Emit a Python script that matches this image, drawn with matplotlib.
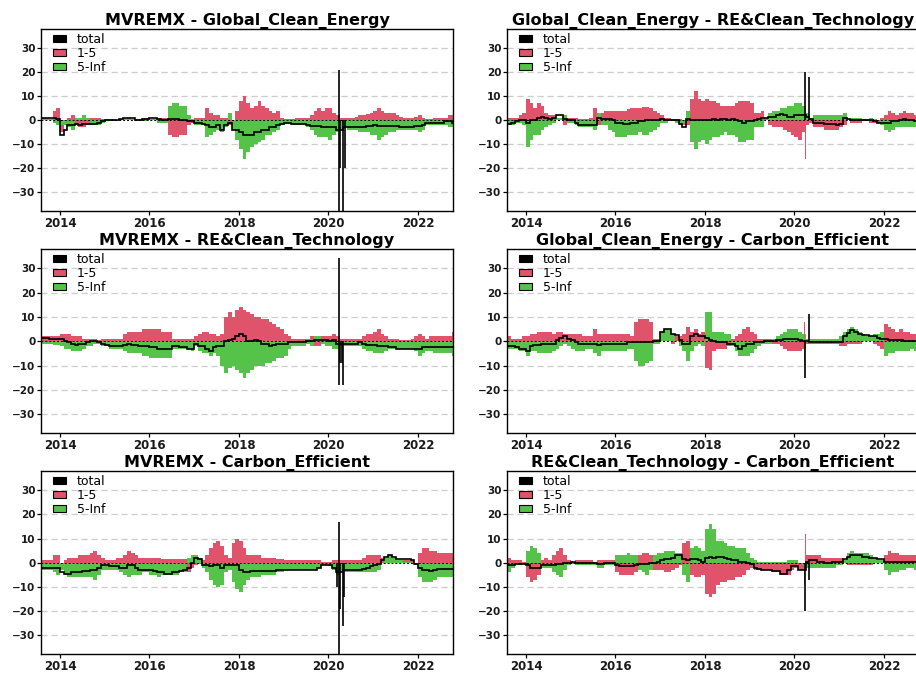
import numpy as np
import pandas as pd
import matplotlib
matplotlib.use("Agg")
import matplotlib.pyplot as plt
import matplotlib.dates as mdates
from matplotlib.patches import Patch

RED = "#DF536B"
GREEN = "#55C24A"

# monthly values, Aug 2013 .. Oct 2022 (111 months)
months = pd.date_range("2013-08-01", "2022-10-01", freq="MS")

titles = [
    "MVREMX - Global_Clean_Energy",
    "Global_Clean_Energy - RE&Clean_Technology",
    "MVREMX - RE&Clean_Technology",
    "Global_Clean_Energy - Carbon_Efficient",
    "MVREMX - Carbon_Efficient",
    "RE&Clean_Technology - Carbon_Efficient",
]

# ---- panel A: MVREMX - Global_Clean_Energy
a_red = [1, 1, 0.5, 4, 5,
         -5, -2, 1, 2, -2, -3, -3, -2, 1, 1, 1, 0.5,
         0.5, 0.5, 0.5, 0.3, 0.5, 0.5, 1, 0.5, 0.5, 0.5, 1, 1,
         0.5, 0.5, 1, 1, 1, -6, -7, -7, -6, -6, -2, -1,
         1, 1, 1, 5, 3, 2, 2, 1, 1, -2, -1, 4,
         8, 10, 7, 5, 6, 8, 6, 5, 4, 3, 4, 1,
         0.5, 0.5, 0.5, 1, 1, 1, 1, 2, 4, 5, 4, 5,
         5, 3, 2, 1, 1, 1, 1, 1.5, 2, 2, 2.5, 3,
         4, 5, 4, 3, 3, 3, 2, 1.5, 1, 1, 1, 1.5,
         2, 1, 0.5, 0.5, 1, 1, 1, 1, 2, 2]
a_green = [0.5, 0.5, 0.5, -1, -2,
           -2, -2, -3, -4, 1, 1, 2, 1, -2, -2, -2, -1,
           -0.5, -0.5, -0.3, 0.3, 0.3, 0.5, 0.5, 0.5, -0.5, -0.5, -0.5, -0.5,
           0.5, 0.5, -1, -1, -1, 6, 7, 7, 6, 6, 2, 0.5,
           -2, -2, -2, -7, -6, -5, -4, -5, -3, 3, -4, -8,
           -12, -16, -13, -11, -10, -9, -8, -6, -6, -5, -4, -2,
           -1.5, -1.5, -2, -2, -2, -2, -3, -4, -6, -7, -7, -7,
           -8, -6, -5, -4, -3, -4, -4, -4, -5, -5, -5, -6,
           -6, -8, -7, -6, -5, -5, -4, -4, -4, -4, -4, -4,
           -5, -4, -2, -2, -2, -2, -2, -2, -3, -3]
a_total = [1, 1, 1, 1, 0.5,
           -6, -4, -2, -2, -1.5, -2, -1.5, -1.5, -1.5, -1.5, -1, -0.5,
           0, 0, 0, 0.3, 0.5, 0.8, 1, 0.8, 0.3, 0.3, 0.5, 0.5,
           1, 1, 0.5, 0, 0, 0.5, 0.5, 0.5, 0.3, 0.3, -0.5, -0.5,
           -1, -1, -1.5, -2, -3, -3, -2, -4, -2, -1, -4, -4,
           -5, -6, -6, -6, -5, -5, -4, -4, -3, -3, -2, -1.5,
           -1, -1, -1.5, -1.5, -1.5, -1.5, -2, -2.5, -2.5, -2.5, -3, -3,
           -3, -3, -4, -4, -3, -3, -3, -3, -3, -3, -2.5, -2.5,
           -2, -2.5, -2.5, -2.5, -2.5, -2.5, -2.5, -3, -3, -3, -3, -2.5,
           -2.5, -2, -1, -1, -1, -1, -1, -0.5, -0.5, -1]
a_spike_days = ["2020-03-25", "2020-03-25", "2020-04-06", "2020-04-28", "2020-05-12"]
a_spike_total = [21, -39, -20, -39, -20]
a_spike_red = [23, 0, 0, 0, 0]
a_spike_green = [0, 0, 0, 0, 0]

# ---- panel B: Global_Clean_Energy - RE&Clean_Technology
b_red = [1, 1, 1, 2, 3,
         9, 7, 5, 7, 6, 3, 2, 2, 1, 1, -2, 1,
         1, 1, 0.5, 0.5, 0.5, 1, 5, -2, 3, 4, 4, 4,
         4, 4, 4, 4.5, 5, 5, 5, 5.5, 5.5, 5, 4, 3,
         2, 1, 1, 0.5, 0.5, 0.5, -2, -2, 9, 12, 9, 8,
         9, 8, 8, 7, 6, 6, 6, 6, 7, 8, 8, 8,
         7, 3, 3, 4, 1, -2, -3, -3, -3, -4, -5, -6,
         -7, -8, -5, -2, -1, -3, -3, -3, -4, -4, -4, -4,
         -3, -2, 0.5, -1, -1, -1, -0.5, -0.5, -1, -1, -1, 1,
         2, 4, 3, 2, 3, 4, 3, 3, 2, 2]
b_green = [-2, -2, -1, -1, -2,
           -11, -8, -6, -6, -4, -3, -2, -1, 1, 1, 2, -1,
           -1, -2, -3, -3, -3, -3, -4, 3, -2, -2, -4, -5,
           -7, -7, -7, -6, -6, -6, -5, -6, -6, -5, -4, -3,
           -1, -1, -0.5, -0.5, -1, -2, -1, 4, -9, -12, -9, -8,
           -10, -8, -7, -7, -6, -5, -6, -6, -7, -9, -9, -8,
           -8, -3, -3, -3, 0, 3, 4, 4, 5, 5, 6, 6,
           7, 7, 6, 3, 1, 2, 2, 2, 2, 2, 2, 2,
           2, 3, 0.5, 1, 1, 1, 0.5, 0.5, 1, 0.5, 0, -2,
           -4, -5, -4, -3, -3, -3, -3, -3, -3, -3]
b_total = [-1.5, -1, -0.5, 0, 0,
           -1, 0, 0, 1, 1.5, 1, 0.5, 1, 2, 2, 0.5, 0,
           0, -1, -2, -2, -2, -2, -2, 1, 0.5, 0.5, 0.5, 0,
           -1, -1, -1.5, -1.5, -1, -1, -0.5, -0.5, 0, 0, 0, 0,
           0.5, 0.3, 0.3, 0.2, 0, -1.5, -3, 0.5, 0, 0, 0, 0,
           0, 0.3, 0.5, 0.3, 0.5, 0.5, 0.3, 0.5, 0.3, -0.5, -1, -0.5,
           -0.5, 0.3, 0.5, 1, 1, 1.5, 1.5, 2, 2.5, 2, 1.5, 1.5,
           2, 2, 2, 1.5, 0.5, -1, -1, -1, -1.5, -1.5, -1.5, -2,
           -1.5, 1, 0.5, 0, 0, 0, 0, 0, 0, -0.5, -1, -1,
           -1, -1, -0.5, -0.5, 0, 0.5, 0, 0, -0.5, -0.5]
b_spike_days = ["2020-03-30", "2020-05-02"]
b_spike_total = [20, 18]
b_spike_red = [-16, 0]
b_spike_green = [0, 0]

# ---- panel C: MVREMX - RE&Clean_Technology
c_red = [2, 2, 2, 2, 2,
         3, 3, 3, 2, 2, 2, 1, 1, 1, 1, 0.5, 1,
         1, 1, 1, 1, 1, 3, 4, 4, 4, 4, 5, 5,
         5, 5, 5, 4, 4, 4, 1, 1, 1, 1, 1, 1,
         2, 3, 4, 4, 3, 3, 2, 3, 10, 12, 10, 13,
         14, 13, 12, 11, 10, 10, 9, 9, 8, 7, 6, 5,
         3, 2, 1, 1, 1, 1, 1, 2, -2, -2, 2, 2,
         2, 3, 2, 1, 1, 1, 1, 1, 1, 2, 3, 3,
         4, 5, 3, 2, 1, 1, 1, 0.5, 0.5, 0.5, 1, 2,
         3, 2, 1, 2, 2, 2, 2, 2, 2, 4]
c_green = [-1, -1, -1, -1.5, -1.5,
           -2, -3, -3, -4, -4, -4, -3, -2, -2, -1, -1, -2,
           -2, -3, -3, -3, -3, -4, -5, -5, -5, -5, -6, -6,
           -7, -7, -7, -7, -7, -7, -3, -3, -3, -3, -3, -4,
           -2, -4, -5, -5, -6, -5, -6, -10, -13, -11, -10, -12,
           -13, -15, -13, -12, -10, -10, -10, -9, -9, -8, -7, -7,
           -6, -3, -2, -2, -2, -2, -1, -2, 2, 2, -1, -2,
           -2, -3, -3, -2, -2, -2, -2, -2, -2, -3, -4, -4,
           -5, -5, -5, -4, -3, -3, -3, -3, -3, -3, -3, -4,
           -6, -5, -4, -4, -5, -5, -5, -5, -5, -6]
c_total = [1.5, 1.5, 1, 1, 1,
           1, 0, -0.5, -1, -1.5, -1, -1, -0.5, 0, 0, -0.5, -1,
           -1.5, -2, -2, -2, -2, -1.5, -1, -1.5, -1.5, -2, -2, -2,
           -2.5, -2.5, -3, -3, -3, -3, -2, -2, -2.5, -2.5, -3, -3,
           -1, -2, -2, -3, -4, -2.5, -2, -2, 0, 0.5, 1, 2,
           3, 2, 0, 0, 0.5, 0, -1, -1, -2, -1.5, -1, -1,
           -1, -0.5, -0.5, -0.5, -0.5, -0.3, 0, 0, 0.5, 0.5, 0.5, 0.5,
           0, 0.5, -1, -1, -1, -1, -1, -1, -0.5, -1, -1.5, -1.5,
           -1.5, -2, -2, -2, -2.5, -2.5, -3, -3, -3, -3, -3, -3,
           -3, -2.5, -2.5, -2.5, -2.5, -2.5, -2.5, -2.5, -2.5, -2.5]
c_spike_days = ["2020-03-25", "2020-03-25", "2020-04-04", "2020-04-20", "2020-04-28"]
c_spike_total = [34, -18, -9, -9, -18]
c_spike_red = [0, 0, 0, 0, 0]
c_spike_green = [35, 0, 0, 0, 0]

# ---- panel D: Global_Clean_Energy - Carbon_Efficient
d_red = [2, 1, 1, 1, 2,
         2, 3, 3, 4, 4, 4, 4, 3, 4, 4, 3, 3,
         3, 3, 3, 2, 2, 2, 5, 3, 3, 3, 3, 3,
         3, 3, 3, 3, 2, 8, 9, 9, 9, 8, 1, 1,
         0.5, 0.5, 0.5, -1, 2, 2, 3, 6, 4, 5, 3, 4,
         -11, -12, -4, -3, -3, -3, -2, 1, 2, 3, 5, 6,
         4, 3, 1, 1, 1, 1, -1, -1, -2, -3, -4, -4,
         -4, -4, -3, -1, -1, -1, -1, -1, -1, -1, -1, -1,
         -2, -2, -1, -1, -1, -1, 0.5, 0.5, 0.5, -1, -2, -3,
         7, 6, 5, 4, 5, 4, 4, 3, 3, 3]
d_green = [-3, -3, -3, -4, -4,
           -6, -4, -4, -5, -5, -5, -5, -4, -3, -2, -1, -2,
           -3, -4, -4, -4, -3, -3, -5, -6, -4, -4, -4, -4,
           -4, -4, -4, -3, -3, -8, -10, -10, -9, -8, -1, -1,
           4, 5, 4.5, 3, 0, -2, -4, -8, -4, -2, -1, -2,
           12, 12, 4, 4, 4, 3, 3, -2, -4, -6, -6, -6,
           -5, -3, -2, -1, -1, -1, 1, 2, 3, 4, 5, 5,
           5, 4, 3, 1, 1, 1, 1, 1, 1, 1, 1, 1,
           2, 4, 5, 6, 5, 4, 3, 2, 2, 3, 3, 4,
           -6, -5, -5, -4, -4, -4, -4, -3, -4, -3]
d_total = [-2, -2, -2.5, -3, -3,
           -4, -2, -1.5, -1.5, -1, -1, -1, -1, 0.5, 1.5, 2, 1,
           0.5, -0.5, -1, -1, -1, -1, -1, -1.5, -1, -1, -1, -1,
           -1, -1, -1, -0.5, -0.5, -0.5, -0.5, -0.5, -0.5, -0.5, 0, 0,
           4, 5, 5, 3, 2.5, 0.5, -1, -1, 2, 3, 2, 2,
           1.5, 0.5, 0, -0.5, -0.5, -0.5, -1, -1, -2, -3, -2, -1,
           -1, -0.5, -0.5, -0.5, 0, 0, 0, 0.5, 0.5, 1, 1, 1,
           1, 0.5, 0, 0, -0.5, -0.5, -0.5, -0.5, -0.5, -0.5, -0.5, -0.5,
           -0.5, 2, 3.5, 4.5, 4, 3, 2.5, 2.5, 2, 2, 1.5, 1,
           1, 0.5, 0.5, 0.5, 0.5, 0, 0, 0, 0, 0]
d_spike_days = ["2020-03-22", "2020-03-30", "2020-05-02"]
d_spike_total = [0, -15, 11]
d_spike_red = [8, 0, 0]
d_spike_green = [-10, 0, 0]

# ---- panel E: MVREMX - Carbon_Efficient
e_red = [1, 1, 1, 3, 3,
         -1, 1, 2, 2, 2, 3, 3, 3, 4, 5, 3, 2,
         1, 1, 1, 2, 2, 3, 5, 4, 3, 2, 2, 2,
         2, 2, 2, 1.5, 1.5, 1.5, 1.5, 1.5, 1.5, 1.5, -4, -2,
         -1, -0.5, 1, 3, 6, 8, 9, 7, 3, 2, 8, 10,
         9, 6, 3, 3, 3, 3, 2, 2, 2, 2, 1.5, 1.5,
         1, 1, 1, 1, 1, 1, 1, 1, 1, 1, 0.5, 0.5,
         0.5, 1, 1, 1, 1, 1, 1, 1, 1, 2, 3, 3,
         3, 3, 2, 1, 1, 1, 1, 1, 1, 1, 1, -1,
         4, 6, 6, 5, 5, 4, 4, 4, 4, 4]
e_green = [-3, -3, -3, -4, -5,
           -3, -5, -6, -6, -6, -6, -6, -6, -6, -7, -5, -3,
           -3, -3, -3, -3, -4, -5, -6, -5, -5, -5, -4, -4,
           -5, -5, -6, -5, -5, -5, -5, -5, -4, -4, 2, 3,
           3, 2, -2, -4, -7, -9, -10, -9, -4, -3, -8, -11,
           -12, -9, -7, -6, -6, -6, -5, -5, -5, -5, -4, -4,
           -3, -3, -3, -3, -3, -3, -3, -3, -3, -2, -1, -1,
           -1.5, -3, -5, -4, -4, -4, -4, -4, -4, -4, -4, -4,
           -4, -3, 0, 2, 3, 2, 1, 1, 0.5, 0.5, 0, -1,
           -6, -8, -8, -8, -7, -6, -6, -6, -6, -6]
e_total = [-2, -2, -2, -2, -2,
           -4, -4.5, -4.5, -4, -4, -4, -3.5, -3.5, -3, -3, -2, -1,
           -1, -1.5, -1.5, -1.5, -2, -2, -1, -1, -2, -3, -3, -3,
           -3, -3.5, -4, -4, -4.5, -4.5, -4, -4, -3.5, -3, -2, 0,
           2, 1.5, -1, -1, -1.5, -1, -1, -2, -1, -1, -1, -1,
           -3, -4, -4, -3.5, -3.5, -3.5, -3.5, -3.5, -3.5, -3.5, -3, -3,
           -3, -3, -3, -3, -3, -3, -3, -3, -3, -2, -1, -1,
           -1, -2, -4, -4, -3, -3, -3, -3, -3, -2.5, -2, -1.5,
           -1, -0.5, 1, 2.5, 3, 2.5, 1.5, 1.5, 1.5, 1.5, 1, -0.5,
           -2, -3, -3, -3.5, -3, -2.5, -2.5, -2.5, -2.5, -2.5]
e_spike_days = ["2020-03-12", "2020-03-25", "2020-03-25", "2020-04-02",
                "2020-04-27", "2020-05-05"]
e_spike_total = [-10, 17, -39, -19, -26, -14]
e_spike_red = [0, 20, 0, 0, 0, 0]
e_spike_green = [0, 0, 0, 0, 0, 0]

# ---- panel F: RE&Clean_Technology - Carbon_Efficient
f_red = [2, 1, 1, 1, 0.5,
         -6, -8, -7, -5, 1, 2, 1, 3, 5, 6, 3, 1,
         0.5, 1, 1, 1, 1, 1, 0.5, 1, 1, 1, 1, 1,
         -4, -5, -5, -5, -5, -4, 3, 4, 4, 3, -3, -3,
         -3, -4, -4, -3, -2, -1, 8, 9, -5, -6, -6, -5,
         -13, -14, -13, -9, -8, -8, -7, -7, -6, -6, -5, -3,
         -2, -3, -3, -3, -3, -3, -4, -4, -5, -5, -5, -3,
         -2, -3, -3, 3, 3, 3, 3, 2, 2, 2, 2, 2,
         2, 1, -1, -1, -1, -1, -1, -1, -1, 1, 1, 1,
         3, 5, 4, 4, 3, 3, 3, 3, 3, 3]
f_green = [-4, -2, -1, -1, -1,
           5, 7, 6, 4, -2, -2, -2, -4, -5, -6, -3, -1,
           -0.5, -1, -1, -1, -1, -1, -1, -2, -2, -1, -1, -1,
           3, 3, 3, 4, 3, 3, -3, -4, -5, -3, 3, 4,
           4, 5, 5, 5, 4, 4, -5, -8, 6, 7, 6, 5,
           14, 16, 14, 9, 9, 8, 7, 7, 6, 6, 6, 4,
           2, 1, 0.5, 0.5, 0.5, 0.5, 0.5, 0.5, 0.5, 0.5, 1, 1,
           1, 0, -1, -2, -2, -2, -2, -2, -2, -2, -2, -1,
           -1, 1, 4, 5, 4, 4, 4, 4, 3, 2, 1, 1,
           -3, -5, -4, -4, -3, -3, -2, -2, -3, -3]
f_total = [-1, -1, -0.5, -0.5, -0.5,
           -1, -2, -2, -2, -1, -1, -1, -1, -0.5, -0.5, 0, 0,
           0.3, 0, 0, 0, 0, 0, 0, -0.5, -0.5, 0, 0, 0,
           -1, -1.5, -1.5, -1.5, -1.5, -1, -0.5, -0.5, -0.5, 0, 0, 0.5,
           1, 1.5, 1.5, 2, 3, 3, 1.5, 1, 1.5, 1.5, 1, 0.5,
           2, 2.5, 2, 2.5, 2.5, 2, 1.5, 1, 1, 0.5, 0.5, 0,
           -0.5, -2, -2.5, -3, -3, -3, -3.5, -3.5, -4.5, -4.5, -3, -1.5,
           -1.5, -3, -3, 0.5, 1, 1, 0.5, 0.5, 0, 0, 0.5, 0.5,
           0.5, 1.5, 2.5, 3, 3, 3, 2.5, 2.5, 2, 2, 1.5, 1.5,
           0.5, 0.5, 0.5, 0.5, 0.5, 0.5, 0.5, 0.5, 0.5, 0.5]
f_spike_days = ["2020-03-22", "2020-03-30", "2020-05-02"]
f_spike_total = [0, -20, -7]
f_spike_red = [0, 12, 0]
f_spike_green = [-9, 0, 0]

panels = [
    (a_red, a_green, a_total, a_spike_days, a_spike_total, a_spike_red, a_spike_green),
    (b_red, b_green, b_total, b_spike_days, b_spike_total, b_spike_red, b_spike_green),
    (c_red, c_green, c_total, c_spike_days, c_spike_total, c_spike_red, c_spike_green),
    (d_red, d_green, d_total, d_spike_days, d_spike_total, d_spike_red, d_spike_green),
    (e_red, e_green, e_total, e_spike_days, e_spike_total, e_spike_red, e_spike_green),
    (f_red, f_green, f_total, f_spike_days, f_spike_total, f_spike_red, f_spike_green),
]


def draw_panel(ax, title, red, green, total, sp_days, sp_total, sp_red, sp_green):
    x = mdates.date2num(months)
    edges = np.append(x, mdates.date2num(pd.Timestamp("2022-11-01")))
    w = np.diff(edges)

    # grid first
    for yv in [-30, -20, -10, 10, 20, 30]:
        ax.axhline(yv, color="#cccccc", lw=0.9, ls=(0, (5, 3)), zorder=1)

    ax.bar(x, red, width=w, align="edge", color=RED, linewidth=0, zorder=2)
    ax.bar(x, green, width=w, align="edge", color=GREEN, linewidth=0, zorder=2)

    sx = mdates.date2num(pd.to_datetime(sp_days))
    ax.bar(sx, sp_red, width=4, color=RED, linewidth=0, zorder=2)
    ax.bar(sx, sp_green, width=4, color=GREEN, linewidth=0, zorder=2)

    ax.axhline(0, color="black", lw=0.7, ls=(0, (2, 2)), zorder=3)
    ax.stairs(total, edges, color="black", lw=1.2, baseline=None, zorder=4)
    ax.vlines(sx, 0, sp_total, color="black", lw=1.2, zorder=4)

    ax.set_xlim(mdates.date2num(pd.Timestamp("2013-07-30")),
                mdates.date2num(pd.Timestamp("2022-10-13")))
    ax.set_ylim(-37.7, 37.9)
    ax.set_yticks([-30, -20, -10, 0, 10, 20, 30])
    ax.xaxis.set_major_locator(mdates.YearLocator(2))
    ax.xaxis.set_major_formatter(mdates.DateFormatter("%Y"))
    ax.tick_params(axis="both", direction="out", length=3, width=0.9,
                   colors="black", labelcolor="#1a1a1a")
    ax.tick_params(axis="y", labelsize=7.5, pad=1)
    ax.tick_params(axis="x", labelsize=8.5, pad=1)
    for s in ax.spines.values():
        s.set_linewidth(1.0)
        s.set_color("black")

    ax.set_title(title, fontsize=11.5, fontweight="bold", pad=1.5)

    handles = [Patch(facecolor="black", edgecolor="black", lw=0.8),
               Patch(facecolor=RED, edgecolor="black", lw=0.8),
               Patch(facecolor=GREEN, edgecolor="black", lw=0.8)]
    ax.legend(handles, ["total", "1-5", "5-Inf"], loc="upper left",
              bbox_to_anchor=(0.03, 0.98), frameon=False, borderpad=0,
              borderaxespad=0, handlelength=1.0, handleheight=0.45,
              handletextpad=0.9, labelspacing=0.1,
              prop={"size": 9, "weight": "normal"})


plt.rcParams["font.weight"] = "bold"
fig = plt.figure(figsize=(9.16, 6.73), dpi=100)

col_left = [41, 507]
rows = [(29, 211), (249, 433), (471, 654)]
W, H = 916, 673
for i, (title, data) in enumerate(zip(titles, panels)):
    top, bot = rows[i // 2]
    left = col_left[i % 2]
    ax = fig.add_axes([left / W, (H - bot) / H, 412 / W, (bot - top) / H])
    draw_panel(ax, title, *data)

fig.savefig("out.png", dpi=100)
